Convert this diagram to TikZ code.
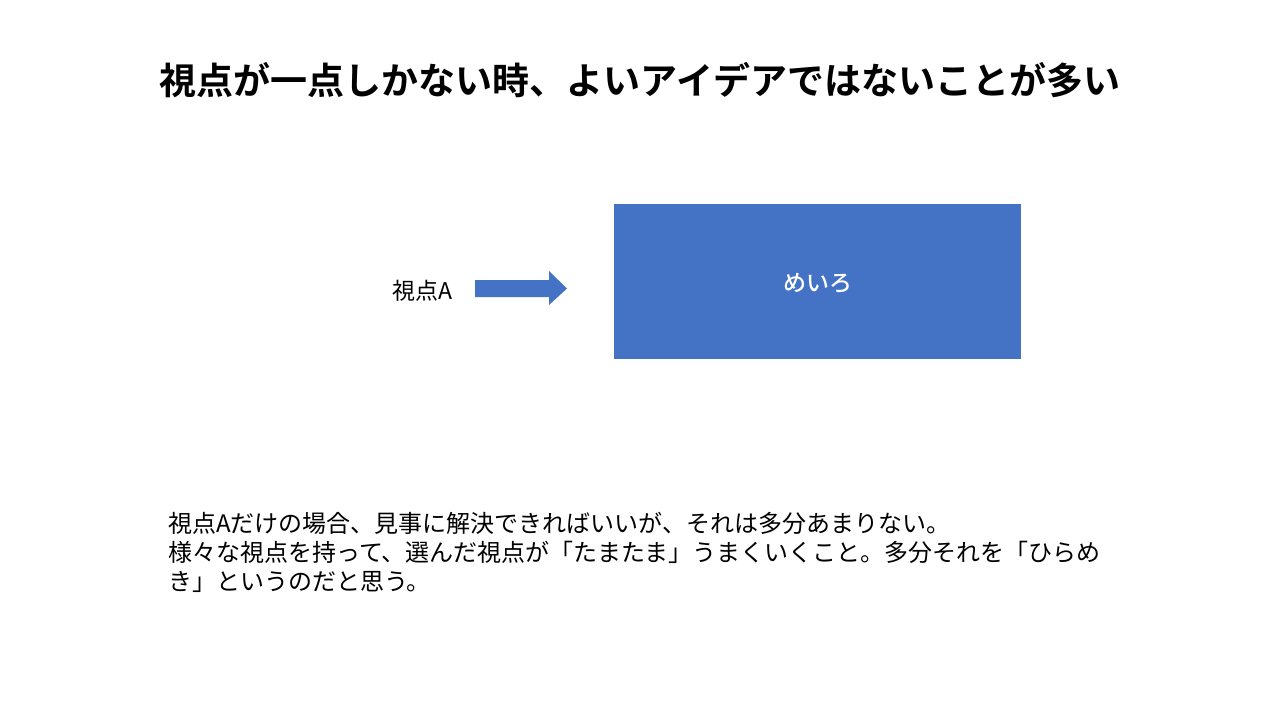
\documentclass[tikz,border=0pt]{standalone}
\usepackage{fontspec}
\setmainfont{Noto Sans CJK JP}
\newfontfamily\jpbold{Noto Sans CJK JP Bold}
\newfontfamily\jpmedium{Noto Sans CJK JP Medium}
\definecolor{boxblue}{HTML}{4472C4}
\begin{document}
\begin{tikzpicture}[x=1pt,y=-1pt,
  bodytext/.style={anchor=base west,inner sep=0pt,font=\fontsize{24}{29}\selectfont},
  titletext/.style={anchor=base,inner sep=0pt,font=\jpbold\fontsize{37}{40}\selectfont}]
\useasboundingbox[fill=white] (0,0) rectangle (1280,720);
\node[titletext] (title) at (640,94) {視点が一点しかない時、よいアイデアではないことが多い};
\fill[boxblue] (614,204) rectangle (1021,359);
\node[anchor=base,inner sep=0pt,text=white,font=\jpmedium\fontsize{23}{26}\selectfont] (maze) at (817.5,291) {めいろ};
\node[anchor=base,inner sep=0pt,font=\fontsize{23}{26}\selectfont] (viewA) at (422,299) {視点A};
\fill[boxblue] (475,280) -- (549,280) -- (549,271) -- (567,288.5) -- (549,305) -- (549,297) -- (475,297) -- cycle;
\node[bodytext] (l1) at (168,532) {視点Aだけの場合、見事に解決できればいいが、それは多分あまりない。};
\node[bodytext] (l2) at (168,561) {様々な視点を持って、選んだ視点が「たまたま」うまくいくこと。多分それを「ひらめ};
\node[bodytext] (l3) at (168,590) {き」というのだと思う。};
\end{tikzpicture}
\end{document}
